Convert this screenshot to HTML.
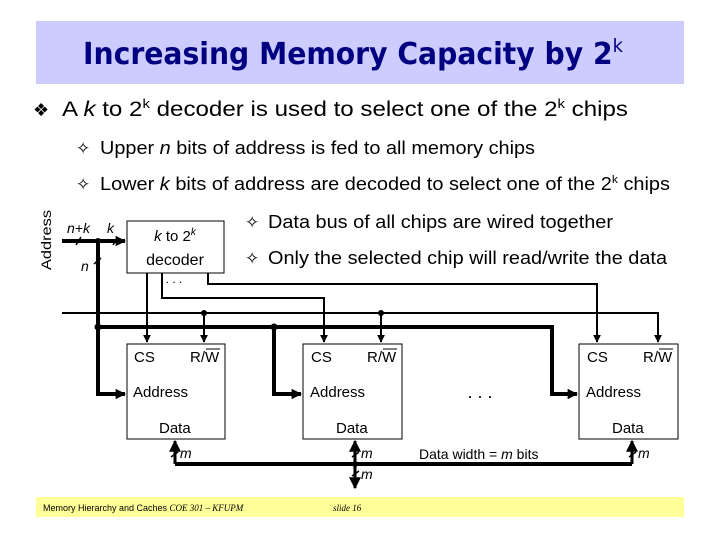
<!DOCTYPE html>
<html><head><meta charset="utf-8"><style>
html,body{margin:0;padding:0;background:#fff;width:720px;height:540px;overflow:hidden}
svg{display:block}
text{font-family:"Liberation Sans",Arial,sans-serif;fill:#000}
</style></head><body>
<svg width="720" height="540" viewBox="0 0 720 540" xmlns="http://www.w3.org/2000/svg">
<defs>
<marker id="a" viewBox="0 0 10 10" refX="9" refY="5" markerWidth="4" markerHeight="4" orient="auto"><path d="M0,0L10,5L0,10z" fill="#000"/></marker>
<marker id="as" viewBox="0 0 10 10" refX="9" refY="5" markerWidth="2.6" markerHeight="2.6" orient="auto"><path d="M0,0L10,5L0,10z" fill="#000"/></marker>
</defs>
<rect x="36" y="21" width="648" height="63" fill="#ccccff"/>
<text x="353" y="64" text-anchor="middle" style="font-family:'DejaVu Sans',sans-serif;fill:#000080" font-size="30" font-weight="bold" textLength="540" lengthAdjust="spacingAndGlyphs">Increasing Memory Capacity by 2<tspan font-size="19" dy="-12" font-weight="normal">k</tspan></text>
<rect x="36" y="497" width="648" height="20" fill="#ffff99"/>
<text x="43" y="511" font-size="9">Memory Hierarchy and Caches <tspan style="font-family:'Liberation Serif'" font-style="italic">COE 301 – KFUPM</tspan></text>
<text x="333" y="511" font-size="9" font-style="italic" style="font-family:'Liberation Serif'">slide 16</text>

<text x="33" y="116" font-size="18">❖</text>
<text x="62" y="116" font-size="21" textLength="566" lengthAdjust="spacingAndGlyphs">A <tspan font-style="italic">k</tspan> to 2<tspan font-size="13" dy="-8">k</tspan><tspan dy="8"> decoder is used to select one of the 2</tspan><tspan font-size="13" dy="-8">k</tspan><tspan dy="8"> chips</tspan></text>
<text x="76" y="154" font-size="17">✧</text>
<text x="100" y="154" font-size="18" textLength="435" lengthAdjust="spacingAndGlyphs">Upper <tspan font-style="italic">n</tspan> bits of address is fed to all memory chips</text>
<text x="76" y="190" font-size="17">✧</text>
<text x="100" y="190" font-size="18" textLength="570" lengthAdjust="spacingAndGlyphs">Lower <tspan font-style="italic">k</tspan> bits of address are decoded to select one of the 2<tspan font-size="11" dy="-7">k</tspan><tspan dy="7"> chips</tspan></text>
<text x="245" y="228" font-size="17">✧</text>
<text x="268" y="228" font-size="18" textLength="345" lengthAdjust="spacingAndGlyphs">Data bus of all chips are wired together</text>
<text x="245" y="264" font-size="17">✧</text>
<text x="268" y="264" font-size="18" textLength="399" lengthAdjust="spacingAndGlyphs">Only the selected chip will read/write the data</text>

<text transform="translate(51,270) rotate(-90)" font-size="14" textLength="60" lengthAdjust="spacingAndGlyphs">Address</text>
<text x="67" y="233" font-size="14" font-style="italic">n+k</text>
<text x="107" y="233" font-size="14" font-style="italic">k</text>
<text x="81" y="271" font-size="14" font-style="italic">n</text>

<rect x="127" y="221" width="97" height="52" fill="#fff" stroke="#000" stroke-width="1"/>
<text x="175" y="241" font-size="15" text-anchor="middle"><tspan font-style="italic">k</tspan> to 2<tspan font-size="10" dy="-6" font-style="italic">k</tspan></text>
<text x="175" y="265" font-size="16" text-anchor="middle">decoder</text>
<text x="174" y="283" font-size="12" text-anchor="middle">. . .</text>

<g stroke="#000" fill="none">
<path d="M62,241H125" stroke-width="4" marker-end="url(#as)"/>
<path d="M98,241V394H125" stroke-width="4" marker-end="url(#as)"/>
<path d="M98,327H552V394H577" stroke-width="4" marker-end="url(#as)"/>
<path d="M274,327V394H301" stroke-width="4" marker-end="url(#as)"/>
<path d="M62,313H658V342" stroke-width="2" marker-end="url(#a)"/>
<path d="M204,313V342" stroke-width="2" marker-end="url(#a)"/>
<path d="M381,313V342" stroke-width="2" marker-end="url(#a)"/>
<path d="M147,273V342" stroke-width="2" marker-end="url(#a)"/>
<path d="M162,273V298H324V342" stroke-width="2" marker-end="url(#a)"/>
<path d="M208,273V284H597V342" stroke-width="2" marker-end="url(#a)"/>
<path d="M175,464H632" stroke-width="4"/>
<path d="M175,464V441" stroke-width="3" marker-end="url(#a)"/>
<path d="M632,464V441" stroke-width="3" marker-end="url(#a)"/>
<path d="M355,464V441" stroke-width="3" marker-end="url(#a)"/>
<path d="M355,464V488" stroke-width="3" marker-end="url(#a)"/>
</g>
<g fill="#000">
<circle cx="98" cy="241" r="3"/><circle cx="98" cy="327" r="3.5"/><circle cx="274" cy="327" r="3.5"/>
<circle cx="204" cy="313" r="3"/><circle cx="381" cy="313" r="3"/><circle cx="355" cy="464" r="3"/>
</g>
<g stroke="#000" stroke-width="1.5">
<path d="M76,245L81,237"/><path d="M113,245L118,237"/><path d="M94,264L101,258"/>
<path d="M171,457L178,452"/><path d="M352,457L359,452"/><path d="M352,476L359,471"/><path d="M629,457L636,452"/>
</g>
<text x="180" y="458" font-size="14" font-style="italic">m</text>
<text x="361" y="458" font-size="14" font-style="italic">m</text>
<text x="361" y="479" font-size="14" font-style="italic">m</text>
<text x="638" y="458" font-size="14" font-style="italic">m</text>
<text x="419" y="459" font-size="14">Data width = <tspan font-style="italic">m</tspan> bits</text>
<text x="480" y="398" font-size="18" text-anchor="middle">. . .</text>

<g>
<rect x="127" y="344" width="98" height="95" fill="#fff" stroke="#000"/>
<text x="134" y="362" font-size="15">CS</text><text x="190" y="362" font-size="15">R/W</text><path d="M206,349H220" stroke="#000"/>
<text x="133" y="397" font-size="15">Address</text><text x="159" y="433" font-size="15">Data</text>
</g>
<g>
<rect x="303" y="344" width="99" height="95" fill="#fff" stroke="#000"/>
<text x="311" y="362" font-size="15">CS</text><text x="367" y="362" font-size="15">R/W</text><path d="M383,349H397" stroke="#000"/>
<text x="310" y="397" font-size="15">Address</text><text x="336" y="433" font-size="15">Data</text>
</g>
<g>
<rect x="579" y="344" width="99" height="95" fill="#fff" stroke="#000"/>
<text x="587" y="362" font-size="15">CS</text><text x="643" y="362" font-size="15">R/W</text><path d="M659,349H673" stroke="#000"/>
<text x="586" y="397" font-size="15">Address</text><text x="612" y="433" font-size="15">Data</text>
</g>
</svg>
</body></html>
